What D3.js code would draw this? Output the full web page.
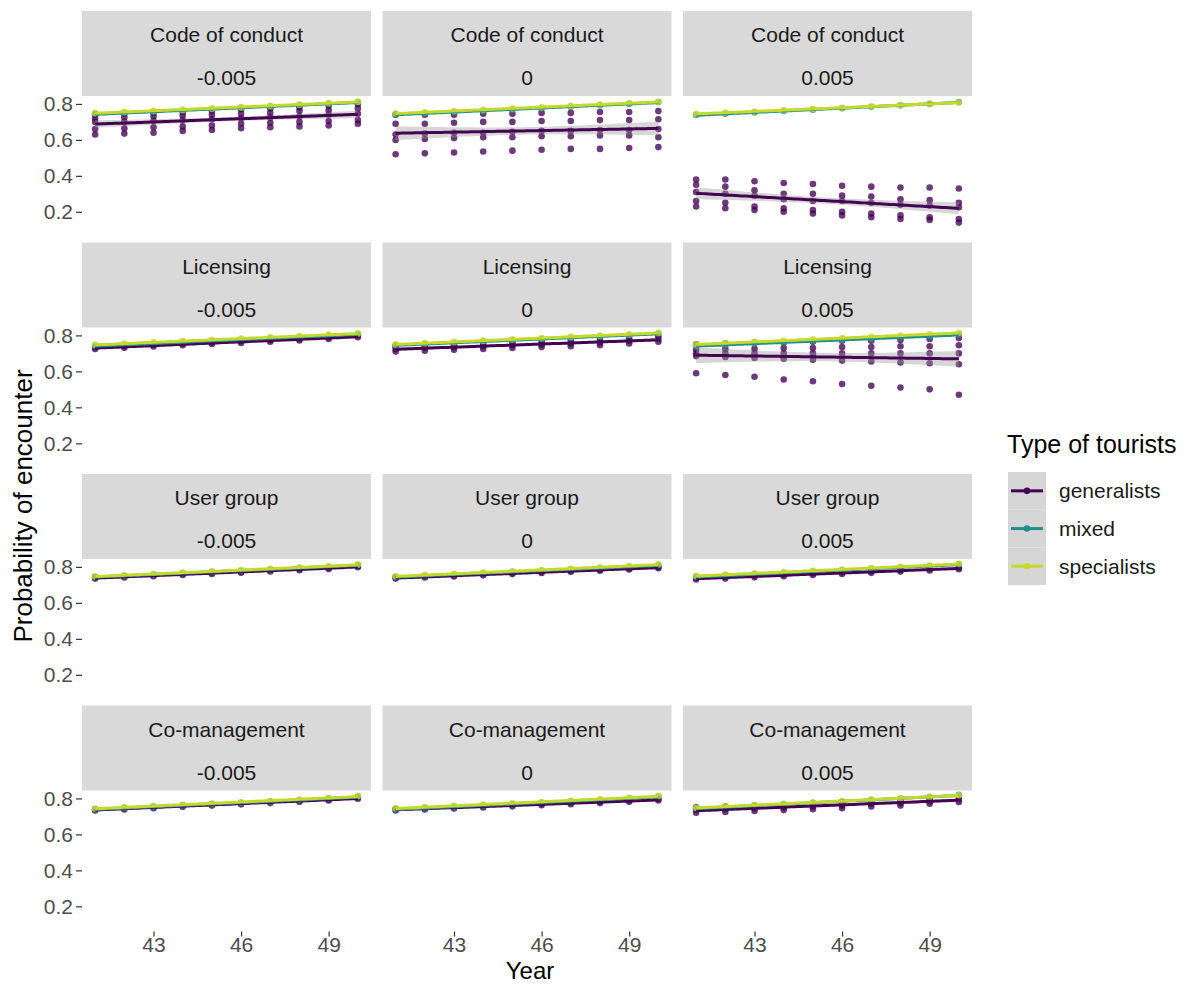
<!DOCTYPE html>
<html>
<head>
<meta charset="utf-8">
<script src="https://cdn.jsdelivr.net/npm/d3@7/dist/d3.min.js"></script>
<style>
  body { margin: 0; background: #fff; }
  svg text { font-family: "Liberation Sans", Arial, sans-serif; }
</style>
</head>
<body>
<div id="chart"></div>
<script>
// categories
const years = [41, 42, 43, 44, 45, 46, 47, 48, 49, 50];
const strategies = ["Code of conduct", "Licensing", "User group", "Co-management"];
const rates = ["-0.005", "0", "0.005"];
const types = ["generalists", "mixed", "specialists"];
const typeColors = ["#440154", "#21908C", "#C5D92D"];
const yTicks = [0.2, 0.4, 0.6, 0.8];
const xTicks = [43, 46, 49];

// Code of conduct
const coc_m_gen = [[0.74,0.72,0.70,0.66,0.63],[0.745,0.725,0.70,0.665,0.635],[0.75,0.73,0.705,0.67,0.64],[0.755,0.735,0.71,0.675,0.65],[0.76,0.74,0.715,0.68,0.655],[0.77,0.745,0.72,0.69,0.665],[0.775,0.75,0.725,0.695,0.67],[0.78,0.76,0.73,0.70,0.675],[0.79,0.765,0.74,0.705,0.68],[0.80,0.775,0.745,0.71,0.69]];
const coc_m_mix = [0.745,0.750,0.755,0.762,0.770,0.778,0.785,0.793,0.800,0.810];
const coc_m_spec = [0.750,0.755,0.762,0.768,0.775,0.782,0.790,0.797,0.805,0.812];

const coc_0_gen = [[0.74,0.69,0.63,0.60,0.52],[0.74,0.69,0.635,0.605,0.525],[0.74,0.695,0.64,0.61,0.53],[0.745,0.70,0.64,0.615,0.535],[0.745,0.70,0.645,0.615,0.54],[0.75,0.705,0.65,0.62,0.545],[0.75,0.705,0.65,0.62,0.55],[0.755,0.71,0.655,0.625,0.55],[0.755,0.71,0.655,0.625,0.555],[0.76,0.715,0.66,0.615,0.56]];
const coc_0_mix = [0.742,0.748,0.754,0.761,0.768,0.776,0.784,0.792,0.800,0.810];
const coc_0_spec = [0.748,0.754,0.760,0.767,0.774,0.781,0.789,0.797,0.805,0.812];

const coc_p_gen = [[0.38,0.35,0.31,0.26,0.23],[0.38,0.34,0.30,0.25,0.22],[0.37,0.32,0.29,0.23,0.21],[0.36,0.30,0.27,0.22,0.20],[0.355,0.30,0.26,0.21,0.19],[0.345,0.29,0.26,0.20,0.18],[0.34,0.285,0.25,0.19,0.17],[0.335,0.27,0.24,0.18,0.16],[0.335,0.265,0.235,0.17,0.155],[0.33,0.25,0.225,0.16,0.14]];
const coc_p_mix = [0.738,0.745,0.752,0.760,0.768,0.776,0.784,0.792,0.800,0.810];
const coc_p_spec = [0.745,0.752,0.758,0.765,0.772,0.779,0.786,0.793,0.800,0.808];

// Licensing
const lic_m_gen = [[0.735,0.725],[0.742,0.732],[0.748,0.738],[0.755,0.745],[0.762,0.752],[0.768,0.758],[0.775,0.765],[0.782,0.772],[0.79,0.78],[0.80,0.79]];
const lic_m_mix = [0.742,0.748,0.755,0.762,0.769,0.776,0.783,0.790,0.798,0.808];
const lic_m_spec = [0.748,0.755,0.762,0.768,0.775,0.782,0.789,0.796,0.803,0.812];

const lic_0_gen = [[0.74,0.725,0.71],[0.745,0.73,0.715],[0.75,0.735,0.72],[0.755,0.74,0.725],[0.76,0.745,0.73],[0.765,0.75,0.735],[0.77,0.755,0.74],[0.78,0.76,0.745],[0.785,0.77,0.755],[0.795,0.78,0.765]];
const lic_0_mix = [0.745,0.752,0.759,0.766,0.773,0.780,0.787,0.794,0.801,0.810];
const lic_0_spec = [0.750,0.757,0.764,0.771,0.778,0.785,0.792,0.799,0.806,0.815];

const lic_p_gen = [[0.75,0.72,0.70,0.685,0.59],[0.755,0.725,0.70,0.68,0.58],[0.76,0.725,0.70,0.675,0.57],[0.76,0.73,0.70,0.67,0.555],[0.765,0.73,0.70,0.665,0.545],[0.77,0.735,0.70,0.66,0.53],[0.77,0.735,0.70,0.655,0.52],[0.775,0.74,0.70,0.65,0.51],[0.78,0.74,0.70,0.645,0.50],[0.785,0.745,0.70,0.64,0.47]];
const lic_p_mix = [0.742,0.748,0.754,0.760,0.767,0.774,0.781,0.788,0.795,0.805];
const lic_p_spec = [0.750,0.757,0.764,0.771,0.778,0.785,0.792,0.799,0.806,0.815];

// User group
const ug_m_gen = [[0.742,0.735],[0.748,0.741],[0.755,0.748],[0.762,0.755],[0.768,0.761],[0.775,0.768],[0.782,0.775],[0.789,0.782],[0.796,0.789],[0.805,0.798]];
const ug_m_mix = [0.745,0.751,0.758,0.765,0.772,0.779,0.786,0.793,0.801,0.811];
const ug_m_spec = [0.747,0.754,0.761,0.768,0.775,0.782,0.789,0.796,0.804,0.814];

const ug_0_gen = [[0.742,0.735],[0.748,0.741],[0.754,0.747],[0.760,0.753],[0.767,0.760],[0.773,0.766],[0.780,0.773],[0.786,0.779],[0.793,0.786],[0.800,0.793]];
const ug_0_mix = [0.744,0.751,0.758,0.765,0.772,0.779,0.786,0.793,0.800,0.810];
const ug_0_spec = [0.748,0.755,0.762,0.769,0.776,0.783,0.790,0.797,0.805,0.815];

const ug_p_gen = [[0.74,0.73],[0.745,0.735],[0.752,0.742],[0.758,0.748],[0.765,0.755],[0.771,0.761],[0.777,0.767],[0.784,0.774],[0.79,0.78],[0.797,0.787]];
const ug_p_mix = [0.745,0.752,0.759,0.766,0.773,0.781,0.789,0.797,0.805,0.815];
const ug_p_spec = [0.750,0.757,0.764,0.771,0.778,0.786,0.793,0.800,0.808,0.818];

// Co-management
const cm_m_gen = [[0.740,0.733],[0.746,0.739],[0.753,0.746],[0.760,0.753],[0.767,0.760],[0.774,0.767],[0.781,0.774],[0.788,0.781],[0.795,0.788],[0.805,0.798]];
const cm_m_mix = [0.740,0.747,0.754,0.761,0.768,0.775,0.782,0.790,0.799,0.811];
const cm_m_spec = [0.744,0.751,0.758,0.765,0.772,0.779,0.786,0.794,0.803,0.814];

const cm_0_gen = [[0.742,0.733],[0.747,0.738],[0.753,0.744],[0.759,0.750],[0.765,0.756],[0.771,0.762],[0.777,0.768],[0.783,0.774],[0.790,0.781],[0.798,0.789]];
const cm_0_mix = [0.740,0.747,0.754,0.761,0.768,0.775,0.783,0.791,0.800,0.811];
const cm_0_spec = [0.745,0.752,0.759,0.766,0.773,0.780,0.787,0.795,0.804,0.815];

const cm_p_gen = [[0.75,0.735,0.72],[0.755,0.74,0.725],[0.76,0.745,0.73],[0.765,0.75,0.735],[0.77,0.755,0.74],[0.775,0.76,0.745],[0.785,0.77,0.755],[0.79,0.775,0.76],[0.80,0.785,0.77],[0.81,0.795,0.78]];
const cm_p_mix = [0.745,0.752,0.759,0.767,0.775,0.783,0.791,0.799,0.808,0.820];
const cm_p_spec = [0.748,0.755,0.762,0.770,0.777,0.785,0.793,0.801,0.809,0.818];

// grid of panels, built from the arrays above
const panels = [
  [coc_m_gen, coc_m_mix, coc_m_spec], [coc_0_gen, coc_0_mix, coc_0_spec], [coc_p_gen, coc_p_mix, coc_p_spec],
  [lic_m_gen, lic_m_mix, lic_m_spec], [lic_0_gen, lic_0_mix, lic_0_spec], [lic_p_gen, lic_p_mix, lic_p_spec],
  [ug_m_gen, ug_m_mix, ug_m_spec], [ug_0_gen, ug_0_mix, ug_0_spec], [ug_p_gen, ug_p_mix, ug_p_spec],
  [cm_m_gen, cm_m_mix, cm_m_spec], [cm_0_gen, cm_0_mix, cm_0_spec], [cm_p_gen, cm_p_mix, cm_p_spec]
];

const svgWidth = 1187, svgHeight = 985;
const panelLeft = 82, colStep = 300.5, panelW = 289;
const stripTop = 11, rowStep = 231.5, stripH = 85, panelH = 141;

const svg = d3.select("#chart")
  .append("svg")
  .attr("width", svgWidth)
  .attr("height", svgHeight);

const x = d3.scaleLinear().domain([40.55, 50.45]).range([0, panelW]);
const y = d3.scaleLinear().domain([0.06, 0.844]).range([panelH, 0]);

// linear fit + 95% band, like geom_smooth(method = "lm")
function fitLm(pts) {
  const n = pts.length;
  const mx = d3.mean(pts, d => d.x), my = d3.mean(pts, d => d.y);
  const sxx = d3.sum(pts, d => (d.x - mx) ** 2);
  const sxy = d3.sum(pts, d => (d.x - mx) * (d.y - my));
  const b = sxy / sxx, a = my - b * mx;
  const sse = d3.sum(pts, d => (d.y - (a + b * d.x)) ** 2);
  const df = n - 2;
  const s = Math.sqrt(sse / df);
  const t = 1.96 + 2.37 / df + 2.8 / (df * df);
  const grid = d3.range(0, 81).map(i => 41 + i * 9 / 80);
  return grid.map(gx => {
    const fit = a + b * gx;
    const se = s * Math.sqrt(1 / n + (gx - mx) ** 2 / sxx);
    return { x: gx, fit, lo: fit - t * se, hi: fit + t * se };
  });
}

panels.forEach((series, i) => {
  const r = Math.floor(i / 3), c = i % 3;
  const x0 = panelLeft + c * colStep;
  const sy = stripTop + r * rowStep;

  // strip
  const strip = svg.append("g").attr("transform", `translate(${x0},${sy})`);
  strip.append("rect").attr("width", panelW).attr("height", stripH).attr("fill", "#d9d9d9");
  strip.append("text").attr("x", panelW / 2).attr("y", 24).attr("dy", "0.35em")
    .attr("text-anchor", "middle").attr("fill", "#1a1a1a").style("font-size", "21px")
    .text(strategies[r]);
  strip.append("text").attr("x", panelW / 2).attr("y", 67).attr("dy", "0.35em")
    .attr("text-anchor", "middle").attr("fill", "#1a1a1a").style("font-size", "21px")
    .text(rates[c]);

  const g = svg.append("g").attr("transform", `translate(${x0},${sy + stripH})`);

  // points
  const pts = series.map((vals, t) => {
    const list = [];
    years.forEach((yr, k) => {
      const v = vals[k];
      (Array.isArray(v) ? v : [v]).forEach(p => list.push({ x: yr, y: p }));
    });
    return list;
  });

  pts.forEach((list, t) => {
    g.selectAll(null)
      .data(list)
      .enter()
      .append("circle")
      .attr("cx", d => x(d.x))
      .attr("cy", d => y(d.y))
      .attr("r", 3.3)
      .attr("fill", typeColors[t])
      .attr("fill-opacity", 0.78);
  });

  // smooth lines with ribbons
  pts.forEach((list, t) => {
    const fit = fitLm(list);
    g.append("path")
      .datum(fit)
      .attr("d", d3.area().x(d => x(d.x)).y0(d => y(d.lo)).y1(d => y(d.hi)))
      .attr("fill", "#999999")
      .attr("fill-opacity", 0.4);
    g.append("path")
      .datum(fit)
      .attr("d", d3.line().x(d => x(d.x)).y(d => y(d.fit)))
      .attr("fill", "none")
      .attr("stroke", typeColors[t])
      .attr("stroke-width", 3);
  });

  // y axis on the first column
  if (c === 0) {
    const ax = g.append("g")
      .call(d3.axisLeft(y).tickValues(yTicks).tickSize(6).tickPadding(3).tickFormat(d3.format(".1f")));
    ax.select(".domain").remove();
    ax.selectAll("line").attr("stroke", "#333333").attr("stroke-width", 1.2);
    ax.selectAll("text").attr("fill", "#4d4d4d").style("font-size", "21px");
  }

  // x axis on the bottom row
  if (r === 3) {
    const ax = g.append("g")
      .attr("transform", `translate(0,${panelH})`)
      .call(d3.axisBottom(x).tickValues(xTicks).tickSize(5).tickPadding(1));
    ax.select(".domain").remove();
    ax.selectAll("line").attr("stroke", "#333333").attr("stroke-width", 1.2);
    ax.selectAll("text").attr("fill", "#4d4d4d").style("font-size", "21px");
  }
});

// axis titles
svg.append("text")
  .attr("transform", "translate(32,506) rotate(-90)")
  .attr("text-anchor", "middle")
  .attr("fill", "#000")
  .style("font-size", "26px")
  .text("Probability of encounter");

svg.append("text")
  .attr("x", 530)
  .attr("y", 979)
  .attr("text-anchor", "middle")
  .attr("fill", "#000")
  .style("font-size", "24px")
  .text("Year");

// legend
const legend = svg.append("g").attr("transform", "translate(1007,453)");
legend.append("text")
  .attr("x", 0).attr("y", 0)
  .attr("fill", "#000")
  .style("font-size", "25px")
  .text("Type of tourists");

const keyW = 38, keyH = 37.7, keyTop = 19;
types.forEach((t, k) => {
  const kg = legend.append("g").attr("transform", `translate(1,${keyTop + k * keyH})`);
  kg.append("rect").attr("width", keyW).attr("height", keyH).attr("fill", "#d6d6d6");
  kg.append("line")
    .attr("x1", 3).attr("x2", keyW - 3)
    .attr("y1", keyH / 2).attr("y2", keyH / 2)
    .attr("stroke", typeColors[k]).attr("stroke-width", 3);
  kg.append("circle").attr("cx", keyW / 2).attr("cy", keyH / 2).attr("r", 3.3)
    .attr("fill", typeColors[k]);
  kg.append("text")
    .attr("x", keyW + 13).attr("y", keyH / 2).attr("dy", "0.35em")
    .attr("fill", "#1a1a1a")
    .style("font-size", "21px")
    .text(t);
});
</script>
</body>
</html>
